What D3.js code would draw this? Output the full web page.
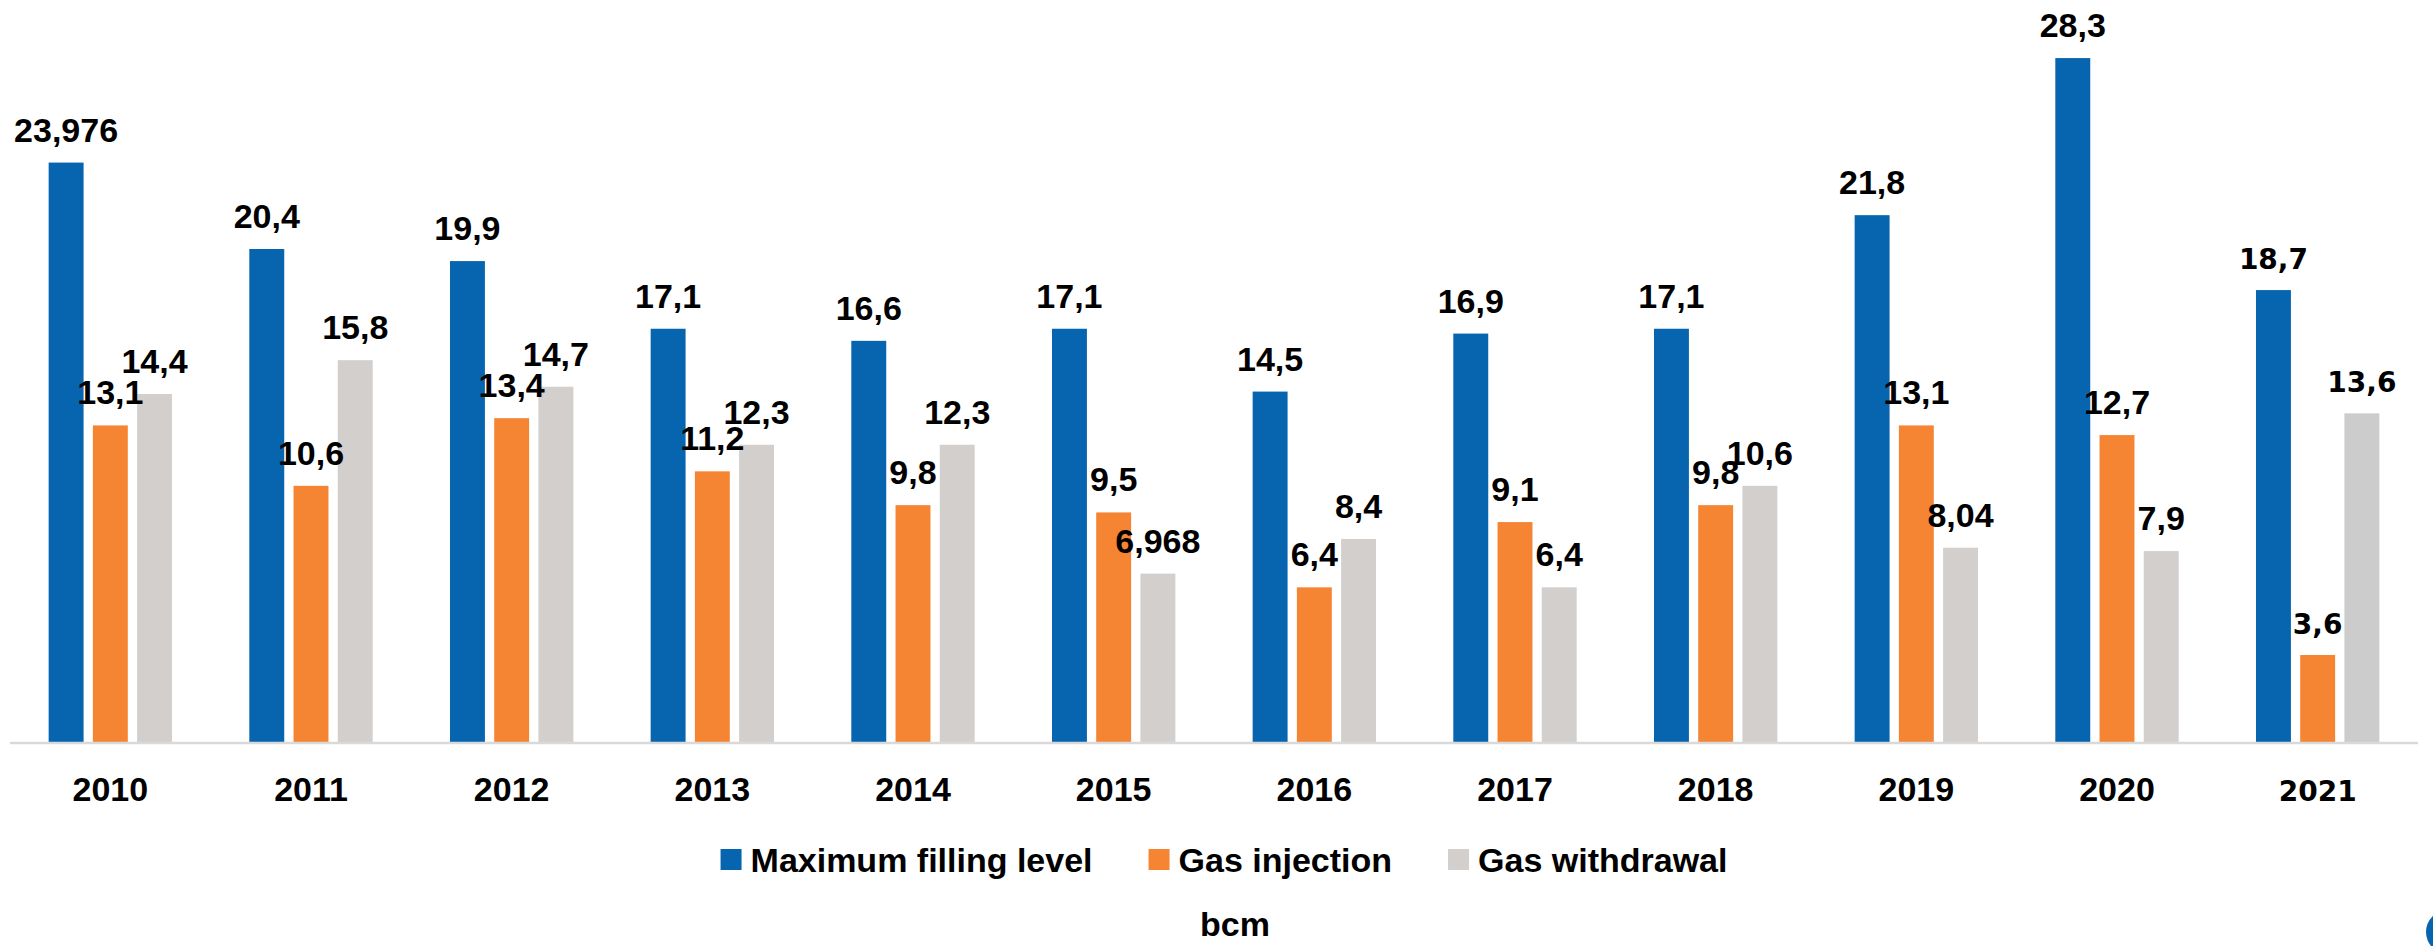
<!DOCTYPE html>
<html>
<head>
<meta charset="utf-8">
<script src="https://cdn.jsdelivr.net/npm/d3@7"></script>
<style>
  html, body { margin: 0; padding: 0; background: #fff; overflow: hidden; }
</style>
</head>
<body>
<div id="chart"></div>
<script>
const WIDTH = 2433;
const HEIGHT = 946;
const PLOT = { left: 10, right: 2418, top: 17, bottom: 742 };

const FONT = "'Liberation Sans', Arial, sans-serif";
const ALT_FONT = "'DejaVu Sans', Verdana, sans-serif";
const FONT_SIZE = "34px";
const ALT_SIZE = "28px";

const years = ["2010", "2011", "2012", "2013", "2014", "2015", "2016", "2017", "2018", "2019", "2020", "2021"];
const seriesNames = ["Maximum filling level", "Gas injection", "Gas withdrawal"];
const maxFillingLevel = [23.976, 20.4, 19.9, 17.1, 16.6, 17.1, 14.5, 16.9, 17.1, 21.8, 28.3, 18.7];
const gasInjection = [13.1, 10.6, 13.4, 11.2, 9.8, 9.5, 6.4, 9.1, 9.8, 13.1, 12.7, 3.6];
const gasWithdrawal = [14.4, 15.8, 14.7, 12.3, 12.3, 6.968, 8.4, 6.4, 10.6, 8.04, 7.9, 13.6];
const seriesColors = ["#0765af", "#f58433", "#d3cfcc"];
const unitLabel = "bcm";

// the last year was pasted in with another font / grey
const altYear = "2021";

const values = [maxFillingLevel, gasInjection, gasWithdrawal];
const rows = years.flatMap((year, i) =>
  seriesNames.map((name, s) => ({ year, series: name, s, value: values[s][i] }))
);

const fmt = (v) => String(v).replace(".", ",");

const svg = d3.select("#chart")
  .append("svg")
  .attr("width", WIDTH)
  .attr("height", HEIGHT)
  .style("font-family", FONT)
  .style("font-weight", "bold");

const x0 = d3.scaleBand().domain(years).range([PLOT.left, PLOT.right]).padding(0);
const x1 = d3.scaleBand()
  .domain(seriesNames)
  .range([0, x0.bandwidth()])
  .paddingInner(0.21)
  .paddingOuter(0.874);
const y = d3.scaleLinear().domain([0, 30]).range([PLOT.bottom, PLOT.top]);

const barColor = (d) => (d.year === altYear && d.s === 2 ? "#cccccc" : seriesColors[d.s]);

// bars
svg.append("g")
  .selectAll("rect")
  .data(rows)
  .join("rect")
  .attr("x", (d) => x0(d.year) + x1(d.series))
  .attr("y", (d) => y(d.value))
  .attr("width", x1.bandwidth())
  .attr("height", (d) => y(0) - y(d.value))
  .attr("fill", barColor);

// baseline
svg.append("line")
  .attr("x1", PLOT.left)
  .attr("x2", PLOT.right)
  .attr("y1", y(0) + 1)
  .attr("y2", y(0) + 1)
  .attr("stroke", "#d9d9d9")
  .attr("stroke-width", 2.5);

// value labels
svg.append("g")
  .selectAll("text")
  .data(rows)
  .join("text")
  .attr("x", (d) => x0(d.year) + x1(d.series) + x1.bandwidth() / 2)
  .attr("y", (d) => y(d.value) - 21)
  .attr("text-anchor", "middle")
  .attr("fill", "#000")
  .style("font-family", (d) => (d.year === altYear ? ALT_FONT : FONT))
  .style("font-size", (d) => (d.year === altYear ? ALT_SIZE : FONT_SIZE))
  .text((d) => fmt(d.value));

// category axis
const xAxis = d3.axisBottom(x0).tickSize(0).tickPadding(0);
const axisG = svg.append("g")
  .attr("transform", `translate(0,${y(0)})`)
  .call(xAxis);
axisG.select(".domain").remove();
axisG.selectAll("text")
  .attr("y", 59)
  .attr("dy", 0)
  .attr("fill", "#000")
  .style("font-family", (d) => (d === altYear ? ALT_FONT : FONT))
  .style("font-size", (d) => (d === altYear ? ALT_SIZE : FONT_SIZE))
  .style("font-weight", "bold");

// legend
const legend = svg.append("g");
const legendItems = legend.selectAll("g")
  .data(seriesNames)
  .join("g");
legendItems.append("rect")
  .attr("width", 21)
  .attr("height", 21)
  .attr("y", -11)
  .attr("fill", (d, i) => seriesColors[i]);
legendItems.append("text")
  .attr("x", 30)
  .attr("y", 12)
  .style("font-size", FONT_SIZE)
  .attr("fill", "#000")
  .text((d) => d);

let cursor = 0;
legendItems.each(function () {
  const g = d3.select(this);
  const w = 30 + g.select("text").node().getComputedTextLength();
  g.attr("transform", `translate(${cursor},0)`);
  cursor += w + 56;
});
const legendWidth = cursor - 56;
legend.attr("transform", `translate(${1224 - legendWidth / 2},860)`);

// unit
svg.append("text")
  .attr("x", 1235)
  .attr("y", 936)
  .attr("text-anchor", "middle")
  .style("font-size", FONT_SIZE)
  .attr("fill", "#000")
  .text(unitLabel);

// clipped logo dot at the corner
svg.append("circle")
  .attr("cx", 2448)
  .attr("cy", 932)
  .attr("r", 22)
  .attr("fill", seriesColors[0]);
</script>
</body>
</html>
